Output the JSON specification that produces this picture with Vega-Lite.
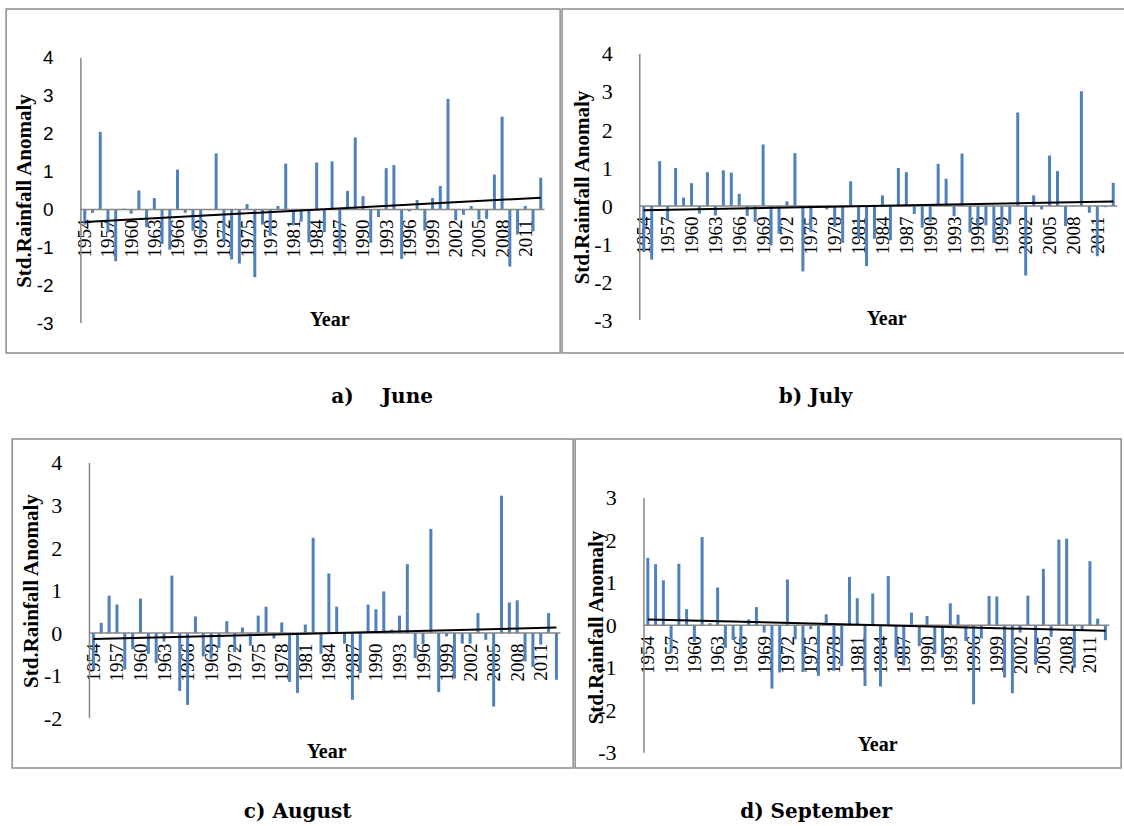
{
  "$schema": "https://vega.github.io/schema/vega-lite/v6.json",
  "background": "white",
  "padding": {"left": 5, "top": 8, "right": 0, "bottom": 0},
  "datasets": {
    "june": [
      {"year": 1954, "anomaly": -0.4}, {"year": 1955, "anomaly": -0.09}, {"year": 1956, "anomaly": 2.05}, {"year": 1957, "anomaly": -0.6},
      {"year": 1958, "anomaly": -1.37}, {"year": 1959, "anomaly": 0.02}, {"year": 1960, "anomaly": -0.11}, {"year": 1961, "anomaly": 0.5},
      {"year": 1962, "anomaly": -0.47}, {"year": 1963, "anomaly": 0.3}, {"year": 1964, "anomaly": -0.91}, {"year": 1965, "anomaly": -1.06},
      {"year": 1966, "anomaly": 1.05}, {"year": 1967, "anomaly": -0.09}, {"year": 1968, "anomaly": -0.56}, {"year": 1969, "anomaly": -0.65},
      {"year": 1970, "anomaly": -0.02}, {"year": 1971, "anomaly": 1.48}, {"year": 1972, "anomaly": -0.86}, {"year": 1973, "anomaly": -1.32},
      {"year": 1974, "anomaly": -1.43}, {"year": 1975, "anomaly": 0.14}, {"year": 1976, "anomaly": -1.79}, {"year": 1977, "anomaly": -0.4},
      {"year": 1978, "anomaly": -0.7}, {"year": 1979, "anomaly": 0.09}, {"year": 1980, "anomaly": 1.21}, {"year": 1981, "anomaly": -0.42},
      {"year": 1982, "anomaly": -0.32}, {"year": 1983, "anomaly": -0.87}, {"year": 1984, "anomaly": 1.24}, {"year": 1985, "anomaly": -0.6},
      {"year": 1986, "anomaly": 1.27}, {"year": 1987, "anomaly": -1.1}, {"year": 1988, "anomaly": 0.49}, {"year": 1989, "anomaly": 1.9},
      {"year": 1990, "anomaly": 0.35}, {"year": 1991, "anomaly": -0.88}, {"year": 1992, "anomaly": -0.2}, {"year": 1993, "anomaly": 1.09},
      {"year": 1994, "anomaly": 1.17}, {"year": 1995, "anomaly": -1.31}, {"year": 1996, "anomaly": -0.05}, {"year": 1997, "anomaly": 0.25},
      {"year": 1998, "anomaly": -0.56}, {"year": 1999, "anomaly": 0.3}, {"year": 2000, "anomaly": 0.62}, {"year": 2001, "anomaly": 2.92},
      {"year": 2002, "anomaly": -0.29}, {"year": 2003, "anomaly": -0.14}, {"year": 2004, "anomaly": 0.09}, {"year": 2005, "anomaly": -0.27},
      {"year": 2006, "anomaly": -0.25}, {"year": 2007, "anomaly": 0.92}, {"year": 2008, "anomaly": 2.45}, {"year": 2009, "anomaly": -1.51},
      {"year": 2010, "anomaly": -0.66}, {"year": 2011, "anomaly": 0.09}, {"year": 2012, "anomaly": -0.58}, {"year": 2013, "anomaly": 0.84}
    ],
    "july": [
      {"year": 1954, "anomaly": -1.21}, {"year": 1955, "anomaly": -1.41}, {"year": 1956, "anomaly": 1.18}, {"year": 1957, "anomaly": -0.38},
      {"year": 1958, "anomaly": 1.0}, {"year": 1959, "anomaly": 0.22}, {"year": 1960, "anomaly": 0.6}, {"year": 1961, "anomaly": -0.2},
      {"year": 1962, "anomaly": 0.89}, {"year": 1963, "anomaly": -0.25}, {"year": 1964, "anomaly": 0.94}, {"year": 1965, "anomaly": 0.88},
      {"year": 1966, "anomaly": 0.32}, {"year": 1967, "anomaly": -0.26}, {"year": 1968, "anomaly": -0.42}, {"year": 1969, "anomaly": 1.62},
      {"year": 1970, "anomaly": -1.04}, {"year": 1971, "anomaly": -0.73}, {"year": 1972, "anomaly": 0.12}, {"year": 1973, "anomaly": 1.39},
      {"year": 1974, "anomaly": -1.72}, {"year": 1975, "anomaly": -0.68}, {"year": 1976, "anomaly": 0.02}, {"year": 1977, "anomaly": -0.09},
      {"year": 1978, "anomaly": -0.55}, {"year": 1979, "anomaly": -0.97}, {"year": 1980, "anomaly": 0.65}, {"year": 1981, "anomaly": -0.85},
      {"year": 1982, "anomaly": -1.58}, {"year": 1983, "anomaly": -0.86}, {"year": 1984, "anomaly": 0.28}, {"year": 1985, "anomaly": -0.9},
      {"year": 1986, "anomaly": 1.0}, {"year": 1987, "anomaly": 0.89}, {"year": 1988, "anomaly": -0.21}, {"year": 1989, "anomaly": -0.57},
      {"year": 1990, "anomaly": -0.42}, {"year": 1991, "anomaly": 1.11}, {"year": 1992, "anomaly": 0.72}, {"year": 1993, "anomaly": -0.27},
      {"year": 1994, "anomaly": 1.38}, {"year": 1995, "anomaly": -0.7}, {"year": 1996, "anomaly": -0.55}, {"year": 1997, "anomaly": -0.51},
      {"year": 1998, "anomaly": -0.97}, {"year": 1999, "anomaly": -0.64}, {"year": 2000, "anomaly": -0.48}, {"year": 2001, "anomaly": 2.46},
      {"year": 2002, "anomaly": -1.83}, {"year": 2003, "anomaly": 0.28}, {"year": 2004, "anomaly": -0.09}, {"year": 2005, "anomaly": 1.33},
      {"year": 2006, "anomaly": 0.92}, {"year": 2007, "anomaly": -0.53}, {"year": 2008, "anomaly": 0.01}, {"year": 2009, "anomaly": 3.02},
      {"year": 2010, "anomaly": -0.18}, {"year": 2011, "anomaly": -1.32}, {"year": 2012, "anomaly": -0.03}, {"year": 2013, "anomaly": 0.61}
    ],
    "august": [
      {"year": 1954, "anomaly": -0.85}, {"year": 1955, "anomaly": 0.24}, {"year": 1956, "anomaly": 0.88}, {"year": 1957, "anomaly": 0.67},
      {"year": 1958, "anomaly": -0.86}, {"year": 1959, "anomaly": -0.38}, {"year": 1960, "anomaly": 0.81}, {"year": 1961, "anomaly": -0.49},
      {"year": 1962, "anomaly": -0.71}, {"year": 1963, "anomaly": -0.2}, {"year": 1964, "anomaly": 1.35}, {"year": 1965, "anomaly": -1.36},
      {"year": 1966, "anomaly": -1.69}, {"year": 1967, "anomaly": 0.39}, {"year": 1968, "anomaly": -0.55}, {"year": 1969, "anomaly": -0.6},
      {"year": 1970, "anomaly": -0.35}, {"year": 1971, "anomaly": 0.28}, {"year": 1972, "anomaly": -0.45}, {"year": 1973, "anomaly": 0.13},
      {"year": 1974, "anomaly": -0.3}, {"year": 1975, "anomaly": 0.41}, {"year": 1976, "anomaly": 0.62}, {"year": 1977, "anomaly": -0.13},
      {"year": 1978, "anomaly": 0.25}, {"year": 1979, "anomaly": -1.15}, {"year": 1980, "anomaly": -1.41}, {"year": 1981, "anomaly": 0.2},
      {"year": 1982, "anomaly": 2.24}, {"year": 1983, "anomaly": -0.49}, {"year": 1984, "anomaly": 1.4}, {"year": 1985, "anomaly": 0.62},
      {"year": 1986, "anomaly": -0.25}, {"year": 1987, "anomaly": -1.57}, {"year": 1988, "anomaly": -0.94}, {"year": 1989, "anomaly": 0.67},
      {"year": 1990, "anomaly": 0.56}, {"year": 1991, "anomaly": 0.98}, {"year": 1992, "anomaly": 0.08}, {"year": 1993, "anomaly": 0.41},
      {"year": 1994, "anomaly": 1.62}, {"year": 1995, "anomaly": -0.59}, {"year": 1996, "anomaly": -0.27}, {"year": 1997, "anomaly": 2.45},
      {"year": 1998, "anomaly": -1.39}, {"year": 1999, "anomaly": -0.08}, {"year": 2000, "anomaly": -1.07}, {"year": 2001, "anomaly": -0.25},
      {"year": 2002, "anomaly": -0.25}, {"year": 2003, "anomaly": 0.47}, {"year": 2004, "anomaly": -0.16}, {"year": 2005, "anomaly": -1.73},
      {"year": 2006, "anomaly": 3.23}, {"year": 2007, "anomaly": 0.72}, {"year": 2008, "anomaly": 0.77}, {"year": 2009, "anomaly": -0.67},
      {"year": 2010, "anomaly": -0.8}, {"year": 2011, "anomaly": -0.27}, {"year": 2012, "anomaly": 0.47}, {"year": 2013, "anomaly": -1.1}
    ],
    "september": [
      {"year": 1954, "anomaly": 1.59}, {"year": 1955, "anomaly": 1.44}, {"year": 1956, "anomaly": 1.06}, {"year": 1957, "anomaly": -0.64},
      {"year": 1958, "anomaly": 1.45}, {"year": 1959, "anomaly": 0.38}, {"year": 1960, "anomaly": -0.39}, {"year": 1961, "anomaly": 2.08},
      {"year": 1962, "anomaly": 0.05}, {"year": 1963, "anomaly": 0.89}, {"year": 1964, "anomaly": -0.53}, {"year": 1965, "anomaly": -0.35},
      {"year": 1966, "anomaly": -0.55}, {"year": 1967, "anomaly": 0.14}, {"year": 1968, "anomaly": 0.43}, {"year": 1969, "anomaly": -0.17},
      {"year": 1970, "anomaly": -1.49}, {"year": 1971, "anomaly": -1.11}, {"year": 1972, "anomaly": 1.08}, {"year": 1973, "anomaly": -0.33},
      {"year": 1974, "anomaly": -1.1}, {"year": 1975, "anomaly": -0.09}, {"year": 1976, "anomaly": -1.19}, {"year": 1977, "anomaly": 0.26},
      {"year": 1978, "anomaly": -1.07}, {"year": 1979, "anomaly": -0.96}, {"year": 1980, "anomaly": 1.14}, {"year": 1981, "anomaly": 0.64},
      {"year": 1982, "anomaly": -1.43}, {"year": 1983, "anomaly": 0.75}, {"year": 1984, "anomaly": -1.44}, {"year": 1985, "anomaly": 1.16},
      {"year": 1986, "anomaly": -0.76}, {"year": 1987, "anomaly": -0.95}, {"year": 1988, "anomaly": 0.3}, {"year": 1989, "anomaly": -0.49},
      {"year": 1990, "anomaly": 0.22}, {"year": 1991, "anomaly": -0.68}, {"year": 1992, "anomaly": -0.76}, {"year": 1993, "anomaly": 0.52},
      {"year": 1994, "anomaly": 0.25}, {"year": 1995, "anomaly": -0.37}, {"year": 1996, "anomaly": -1.86}, {"year": 1997, "anomaly": -0.31},
      {"year": 1998, "anomaly": 0.69}, {"year": 1999, "anomaly": 0.68}, {"year": 2000, "anomaly": -1.23}, {"year": 2001, "anomaly": -1.6},
      {"year": 2002, "anomaly": -0.17}, {"year": 2003, "anomaly": 0.7}, {"year": 2004, "anomaly": -0.93}, {"year": 2005, "anomaly": 1.33},
      {"year": 2006, "anomaly": -0.27}, {"year": 2007, "anomaly": 2.02}, {"year": 2008, "anomaly": 2.04}, {"year": 2009, "anomaly": -1.0},
      {"year": 2010, "anomaly": -0.13}, {"year": 2011, "anomaly": 1.51}, {"year": 2012, "anomaly": 0.16}, {"year": 2013, "anomaly": -0.35}
    ],
    "trend_june": [{"year": 1954, "trend": -0.33}, {"year": 2013, "trend": 0.31}],
    "trend_july": [{"year": 1954, "trend": -0.11}, {"year": 2013, "trend": 0.12}],
    "trend_august": [{"year": 1954, "trend": -0.14}, {"year": 2013, "trend": 0.13}],
    "trend_september": [{"year": 1954, "trend": 0.14}, {"year": 2013, "trend": -0.13}]
  },
  "vconcat": [
    {
      "hconcat": [
        {
          "width": 554, "height": 344,
          "title": {"text": "a)\u00a0\u00a0\u00a0\u00a0June", "orient": "bottom", "anchor": "middle", "offset": 34, "dx": 99, "baseline": "top"},
          "resolve": {"axis": {"x": "independent", "y": "independent"}},
          "layer": [
            {"data": {"name": "june"}, "mark": {"type": "bar", "color": "#4F81BD", "size": 3, "orient": "vertical"},
             "encoding": {
               "x": {"field": "year", "type": "quantitative", "scale": {"domain": [1944.47, 2014.86], "nice": false, "zero": false},
                     "axis": {"values": [1954,1957,1960,1963,1966,1969,1972,1975,1978,1981,1984,1987,1990,1993,1996,1999,2002,2005,2008,2011],
                              "offset": -144, "title": "Year", "titleX": 323, "titleY": 110,
                              "labelFont": "Liberation Serif", "labelFontSize": 19, "labelOverlap": false}},
               "y": {"field": "anomaly", "type": "quantitative", "scale": {"domain": [-3.792, 5.294], "nice": false, "zero": false},
                     "axis": {"values": [-3,-2,-1,0,1,2,3,4], "offset": -71, "title": "Std.Rainfall Anomaly", "titleX": -53, "titleY": 181.5,
                              "labelFont": "Liberation Sans", "labelFontSize": 19, "labelOverlap": false}},
               "y2": {"datum": 0}
             }},
            {"data": {"values": [{}]}, "mark": {"type": "rule", "color": "#868686", "strokeWidth": 1.5},
             "encoding": {"x": {"datum": 1953.5, "type": "quantitative", "axis": null}, "y": {"datum": -3, "type": "quantitative", "axis": null}, "y2": {"datum": 4}}},
            {"data": {"values": [{}]}, "mark": {"type": "rule", "color": "#868686", "strokeWidth": 1.5},
             "encoding": {"x": {"datum": 1953.5, "type": "quantitative", "axis": null}, "x2": {"datum": 2013.5}, "y": {"datum": 0, "type": "quantitative", "axis": null}}},
            {"data": {"name": "trend_june"}, "mark": {"type": "line", "color": "black", "strokeWidth": 2},
             "encoding": {"x": {"field": "year", "type": "quantitative", "axis": null}, "y": {"field": "trend", "type": "quantitative", "axis": null}}}
          ]
        },
        {
          "width": 565, "height": 344,
          "title": {"text": "b) July", "orient": "bottom", "anchor": "middle", "offset": 34, "dx": -29, "baseline": "top"},
          "resolve": {"axis": {"x": "independent", "y": "independent"}},
          "layer": [
            {"data": {"name": "july"}, "mark": {"type": "bar", "color": "#4F81BD", "size": 3, "orient": "vertical"},
             "encoding": {
               "x": {"field": "year", "type": "quantitative", "scale": {"domain": [1944.37, 2014.12], "nice": false, "zero": false},
                     "axis": {"values": [1954,1957,1960,1963,1966,1969,1972,1975,1978,1981,1984,1987,1990,1993,1996,1999,2002,2005,2008,2011],
                              "offset": -147, "title": "Year", "titleX": 324, "titleY": 112,
                              "labelFont": "Liberation Serif", "labelFontSize": 19, "labelOverlap": false}},
               "y": {"field": "anomaly", "type": "quantitative", "scale": {"domain": [-3.868, 5.184], "nice": false, "zero": false},
                     "axis": {"values": [-3,-2,-1,0,1,2,3,4], "offset": -74, "title": "Std.Rainfall Anomaly", "titleX": -54, "titleY": 178,
                              "labelFont": "Liberation Serif", "labelFontSize": 22, "labelOverlap": false}},
               "y2": {"datum": 0}
             }},
            {"data": {"values": [{}]}, "mark": {"type": "rule", "color": "#868686", "strokeWidth": 1.5},
             "encoding": {"x": {"datum": 1953.5, "type": "quantitative", "axis": null}, "y": {"datum": -3, "type": "quantitative", "axis": null}, "y2": {"datum": 4}}},
            {"data": {"values": [{}]}, "mark": {"type": "rule", "color": "#868686", "strokeWidth": 1.5},
             "encoding": {"x": {"datum": 1953.5, "type": "quantitative", "axis": null}, "x2": {"datum": 2013.5}, "y": {"datum": 0, "type": "quantitative", "axis": null}}},
            {"data": {"name": "trend_july"}, "mark": {"type": "line", "color": "black", "strokeWidth": 2},
             "encoding": {"x": {"field": "year", "type": "quantitative", "axis": null}, "y": {"field": "trend", "type": "quantitative", "axis": null}}}
          ]
        }
      ]
    },
    {
      "hconcat": [
        {
          "width": 561, "height": 329,
          "title": {"text": "c) August", "orient": "bottom", "anchor": "middle", "offset": 34, "dx": 5, "baseline": "top"},
          "resolve": {"axis": {"x": "independent", "y": "independent"}},
          "layer": [
            {"data": {"name": "august"}, "mark": {"type": "bar", "color": "#4F81BD", "size": 3, "orient": "vertical"},
             "encoding": {
               "x": {"field": "year", "type": "quantitative", "scale": {"domain": [1944.28, 2014.49], "nice": false, "zero": false},
                     "axis": {"values": [1954,1957,1960,1963,1966,1969,1972,1975,1978,1981,1984,1987,1990,1993,1996,1999,2002,2005,2008,2011],
                              "offset": -135, "title": "Year", "titleX": 314, "titleY": 118,
                              "labelFont": "Liberation Serif", "labelFontSize": 19, "labelOverlap": false}},
               "y": {"field": "anomaly", "type": "quantitative", "scale": {"domain": [-3.175, 4.564], "nice": false, "zero": false},
                     "axis": {"values": [-2,-1,0,1,2,3,4], "offset": -73.7, "title": "Std.Rainfall Anomaly", "titleX": -54, "titleY": 151.6,
                              "labelFont": "Liberation Serif", "labelFontSize": 22, "labelOverlap": false}},
               "y2": {"datum": 0}
             }},
            {"data": {"values": [{}]}, "mark": {"type": "rule", "color": "#868686", "strokeWidth": 1.5},
             "encoding": {"x": {"datum": 1953.5, "type": "quantitative", "axis": null}, "y": {"datum": -2, "type": "quantitative", "axis": null}, "y2": {"datum": 4}}},
            {"data": {"values": [{}]}, "mark": {"type": "rule", "color": "#868686", "strokeWidth": 1.5},
             "encoding": {"x": {"datum": 1953.5, "type": "quantitative", "axis": null}, "x2": {"datum": 2013.5}, "y": {"datum": 0, "type": "quantitative", "axis": null}}},
            {"data": {"name": "trend_august"}, "mark": {"type": "line", "color": "black", "strokeWidth": 2},
             "encoding": {"x": {"field": "year", "type": "quantitative", "axis": null}, "y": {"field": "trend", "type": "quantitative", "axis": null}}}
          ]
        },
        {
          "width": 546, "height": 329,
          "title": {"text": "d) September", "orient": "bottom", "anchor": "middle", "offset": 34, "dx": -32, "baseline": "top"},
          "resolve": {"axis": {"x": "independent", "y": "independent"}},
          "layer": [
            {"data": {"name": "september"}, "mark": {"type": "bar", "color": "#4F81BD", "size": 3, "orient": "vertical"},
             "encoding": {
               "x": {"field": "year", "type": "quantitative", "scale": {"domain": [1945.27, 2014.38], "nice": false, "zero": false},
                     "axis": {"values": [1954,1957,1960,1963,1966,1969,1972,1975,1978,1981,1984,1987,1990,1993,1996,1999,2002,2005,2008,2011],
                              "offset": -142.5, "title": "Year", "titleX": 302, "titleY": 119,
                              "labelFont": "Liberation Serif", "labelFontSize": 19, "labelOverlap": false}},
               "y": {"field": "anomaly", "type": "quantitative", "scale": {"domain": [-3.36, 4.388], "nice": false, "zero": false},
                     "axis": {"values": [-3,-2,-1,0,1,2,3], "offset": -65, "title": "Std.Rainfall Anomaly", "titleX": -44, "titleY": 188,
                              "labelFont": "Liberation Serif", "labelFontSize": 22, "labelOverlap": false}},
               "y2": {"datum": 0}
             }},
            {"data": {"values": [{}]}, "mark": {"type": "rule", "color": "#868686", "strokeWidth": 1.5},
             "encoding": {"x": {"datum": 1953.5, "type": "quantitative", "axis": null}, "y": {"datum": -3, "type": "quantitative", "axis": null}, "y2": {"datum": 3}}},
            {"data": {"values": [{}]}, "mark": {"type": "rule", "color": "#868686", "strokeWidth": 1.5},
             "encoding": {"x": {"datum": 1953.5, "type": "quantitative", "axis": null}, "x2": {"datum": 2013.5}, "y": {"datum": 0, "type": "quantitative", "axis": null}}},
            {"data": {"name": "trend_september"}, "mark": {"type": "line", "color": "black", "strokeWidth": 2},
             "encoding": {"x": {"field": "year", "type": "quantitative", "axis": null}, "y": {"field": "trend", "type": "quantitative", "axis": null}}}
          ]
        }
      ]
    }
  ],
  "spacing": 30,
  "center": true,
  "config": {
    "view": {"stroke": "#8c8c8c", "strokeWidth": 1.5},
    "concat": {"spacing": 0},
    "title": {"font": "DejaVu Serif", "fontWeight": "bold", "fontSize": 20, "color": "black"},
    "axis": {
      "domain": false, "ticks": false, "grid": false,
      "labelColor": "black", "labelFlush": false,
      "titleFont": "Liberation Serif", "titleFontWeight": "bold", "titleColor": "black",
      "titleBaseline": "middle", "titleAlign": "center"
    },
    "axisX": {"labelAngle": 270, "labelPadding": 10, "format": "d", "titleFontSize": 20},
    "axisY": {
      "labelPadding": 24, "titleAngle": 270, "titleFontSize": 21,
      "labelExpr": "datum.value < 0 ? '-' + abs(datum.value) : '' + datum.value"
    }
  }
}
